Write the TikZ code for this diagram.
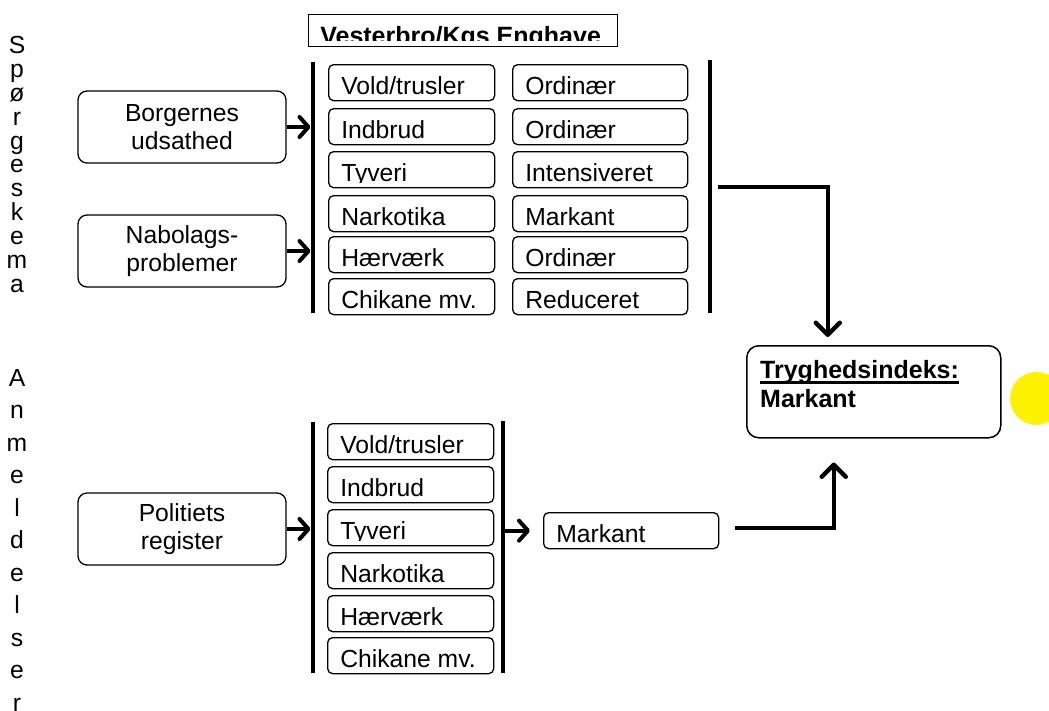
\documentclass[tikz,border=0pt]{standalone}
\usepackage{fontspec}
\setmainfont{Liberation Sans}
\usetikzlibrary{arrows.meta}
\newcommand\cellfont{\fontsize{24.7}{29}\selectfont}
\tikzset{
  cell/.style={draw, line width=1.3pt, rounded corners=5pt, anchor=north west, inner sep=0pt, minimum height=36pt},
  plain/.style={draw=none, rounded corners=0pt, minimum width=0pt, minimum height=0pt, inner sep=0pt, anchor=base west},
  inbox/.style={draw, line width=1.3pt, rounded corners=9pt, minimum width=208pt, minimum height=72pt, inner sep=0pt, align=center, font=\fontsize{24.7}{28}\selectfont},
  bar/.style={line width=4.5pt},
  arr/.style={line width=4pt, -{Straight Barb[length=9pt,width=20pt,round]}},
  conn/.style={line width=4.5pt, line join=miter, -{Straight Barb[length=12pt,width=24pt,round]}},
  vtext/.style={inner sep=0pt, align=center, anchor=north}
}
% #1 name, #2 x, #3 y, #4 width, #5 text
\newcommand\cellbox[5]{%
  \node[cell, minimum width=#4pt, path picture={
      \clip (path picture bounding box.north west) rectangle ([yshift=5.5pt]path picture bounding box.south east);
      \node[plain, font=\cellfont] at ([xshift=12pt, yshift=6pt]path picture bounding box.south west) {#5};
    }] (#1) at (#2,#3) {};}
\begin{document}
\begin{tikzpicture}[x=1pt, y=-1pt]
\useasboundingbox (0,0) rectangle (1049,710);

% vertical labels
\node[vtext, font=\fontsize{24.7}{23.9}\selectfont] (sp) at (17,36) {S\\p\\ø\\r\\g\\e\\s\\k\\e\\m\\a};
\node[vtext, font=\fontsize{24.7}{32.5}\selectfont] (an) at (17,369) {A\\n\\m\\e\\l\\d\\e\\l\\s\\e\\r};

% title
\node[draw, line width=1.3pt, anchor=north west, minimum width=309pt, minimum height=32pt, inner sep=0pt,
  path picture={
    \clip (path picture bounding box.north west) rectangle ([yshift=6pt]path picture bounding box.south east);
    \node[plain, font=\bfseries\fontsize{25}{29}\selectfont] at ([xshift=11pt, yshift=2pt]path picture bounding box.south west) {Vesterbro/Kgs Enghave};
  }] (title) at (308,14) {};

% upper block bars
\coordinate (ult) at (313,62);  \coordinate (ulb) at (313,313);
\coordinate (urt) at (710,60);  \coordinate (urb) at (710,313);
\draw[bar] (ult) -- (ulb);
\draw[bar] (urt) -- (urb);

% upper block cells
\cellbox{u1}{328}{64}{166}{Vold/trusler}
\cellbox{u2}{328}{108}{166}{Indbrud}
\cellbox{u3}{328}{151}{166}{Tyveri}
\cellbox{u4}{328}{195}{166}{Narkotika}
\cellbox{u5}{328}{236}{166}{Hærværk}
\cellbox{u6}{328}{278}{166}{Chikane mv.}
\cellbox{v1}{512}{64}{175}{Ordinær}
\cellbox{v2}{512}{108}{175}{Ordinær}
\cellbox{v3}{512}{151}{175}{Intensiveret}
\cellbox{v4}{512}{195}{175}{Markant}
\cellbox{v5}{512}{236}{175}{Ordinær}
\cellbox{v6}{512}{278}{175}{Reduceret}

% input boxes
\node[inbox] (bo) at (182,127) {Borgernes\\udsathed};
\node[inbox] (nb) at (182,251) {Nabolags-\\problemer};
\node[inbox] (pr) at (182,529) {Politiets\\register};

\draw[arr] (bo.east) -- ([xshift=-2.5pt]bo.east -| ult);
\draw[arr] (nb.east) -- ([xshift=-2.5pt]nb.east -| ult);

% lower block bars
\coordinate (llt) at (313,422);  \coordinate (llb) at (313,673);
\coordinate (lrt) at (503,421);  \coordinate (lrb) at (503,673);
\draw[bar] (llt) -- (llb);
\draw[bar] (lrt) -- (lrb);

\cellbox{w1}{327}{423}{166}{Vold/trusler}
\cellbox{w2}{327}{466}{166}{Indbrud}
\cellbox{w3}{327}{509}{166}{Tyveri}
\cellbox{w4}{327}{552}{166}{Narkotika}
\cellbox{w5}{327}{595}{166}{Hærværk}
\cellbox{w6}{327}{637}{166}{Chikane mv.}

\draw[arr] (pr.east) -- ([xshift=-2.5pt]pr.east -| llt);

% Markant result box
\cellbox{mk}{543}{512}{175}{Markant}
\draw[arr] ([xshift=1pt]mk.west -| lrt) -- ([xshift=-13pt]mk.west);

% Tryghedsindeks
\node[draw, line width=1.5pt, rounded corners=12pt, anchor=north west, minimum width=254pt, minimum height=92pt, inner sep=0pt] (tri) at (746,345) {};
\node[plain, font=\bfseries\fontsize{25}{29}\selectfont] (tri1) at (760,378) {Tryghedsindeks:};
\node[plain, font=\bfseries\fontsize{25}{29}\selectfont] (tri2) at (760,407) {Markant};
\draw[line width=3pt] ([yshift=-4.5pt]tri1.base west) -- ([yshift=-4.5pt]tri1.base east);

% connectors to index
\coordinate (o1) at (718,187);
\coordinate (o2) at (735,528);
\draw[conn] (o1) -| ([xshift=-46pt, yshift=8pt]tri.north);
\draw[conn] (o2) -| ([xshift=-40pt, yshift=-24pt]tri.south);

% yellow marker
\fill[yellow] (1036.5,398.5) circle (26.5pt);
\end{tikzpicture}
\end{document}
